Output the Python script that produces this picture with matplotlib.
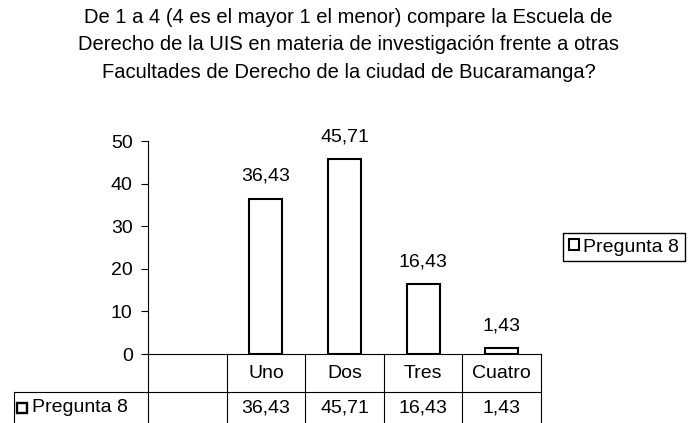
import matplotlib
matplotlib.use("Agg")
import matplotlib.pyplot as plt

plt.rcParams['font.family'] = ['Liberation Sans', 'DejaVu Sans']
plt.rcParams['font.size'] = 14

# === Datos ===
titulo = ("De 1 a 4 (4 es el mayor 1 el menor) compare la Escuela de\n"
          "Derecho de la UIS en materia de investigación frente a otras\n"
          "Facultades de Derecho de la ciudad de Bucaramanga?")
categorias = ["", "Uno", "Dos", "Tres", "Cuatro"]
valores = [None, 36.43, 45.71, 16.43, 1.43]
serie = "Pregunta 8"


def fmt(v):
    return "" if v is None else f"{v:.2f}".replace(".", ",")


W, H = 697, 423
fig = plt.figure(figsize=(W / 100, H / 100), dpi=100)
ax = fig.add_axes([148 / W, (H - 354) / H, 393 / W, 213 / H])

pos = [i + 0.5 for i in range(len(categorias))]
xs = [p for p, v in zip(pos, valores) if v is not None]
vs = [v for v in valores if v is not None]
barras = ax.bar(xs, vs, width=0.42, color="white", edgecolor="black",
                linewidth=1.5, label=serie)
for x, v in zip(xs, vs):
    ax.annotate(fmt(v), (x, v), xytext=(0, 10), textcoords="offset points",
                ha="center", va="bottom")

ax.set_xlim(0, len(categorias))
ax.set_ylim(0, 50)
ax.set_yticks(range(0, 51, 10))
ax.set_xticks([])
ax.tick_params(axis="y", length=5, width=0.8, pad=6)
for s in ["top", "right"]:
    ax.spines[s].set_visible(False)
for s in ["left", "bottom"]:
    ax.spines[s].set_linewidth(0.8)

# === Tabla de datos ===
tr = ax.get_xaxis_transform()
fila1 = -38 / 213
fila2 = -69 / 213
x_izq = (14 - 148) / 78.6
kw = dict(color="black", lw=0.8, transform=tr, clip_on=False)
ax.plot([x_izq, len(categorias)], [fila1, fila1], **kw)
ax.plot([x_izq, x_izq], [fila1, fila2], **kw)
for i in range(len(categorias) + 1):
    ax.plot([i, i], [0, fila2], **kw)

for p, c, v in zip(pos, categorias, valores):
    ax.text(p, fila1 / 2, c, ha="center", va="center", transform=tr)
    ax.text(p, (fila1 + fila2) / 2, fmt(v), ha="center", va="center", transform=tr)

ax.plot([x_izq + 0.1], [(fila1 + fila2) / 2], marker="s", ms=7, mfc="white",
        mec="black", mew=1.7, transform=tr, clip_on=False)
ax.text(x_izq + 0.23, (fila1 + fila2) / 2, serie, ha="left", va="center", transform=tr)

# === Leyenda ===
fig.legend(handles=[barras], loc="center left", bbox_to_anchor=(563 / W, (H - 247) / H),
           frameon=True, fancybox=False, edgecolor="black", framealpha=1,
           handlelength=0.5, handleheight=0.5, handletextpad=0.25,
           borderpad=0.3, borderaxespad=0)

fig.text(0.5, 1 - 45 / H, titulo, ha="center", va="center", linespacing=1.58,
         fontsize=14.5)

fig.savefig("out.png", dpi=100)
